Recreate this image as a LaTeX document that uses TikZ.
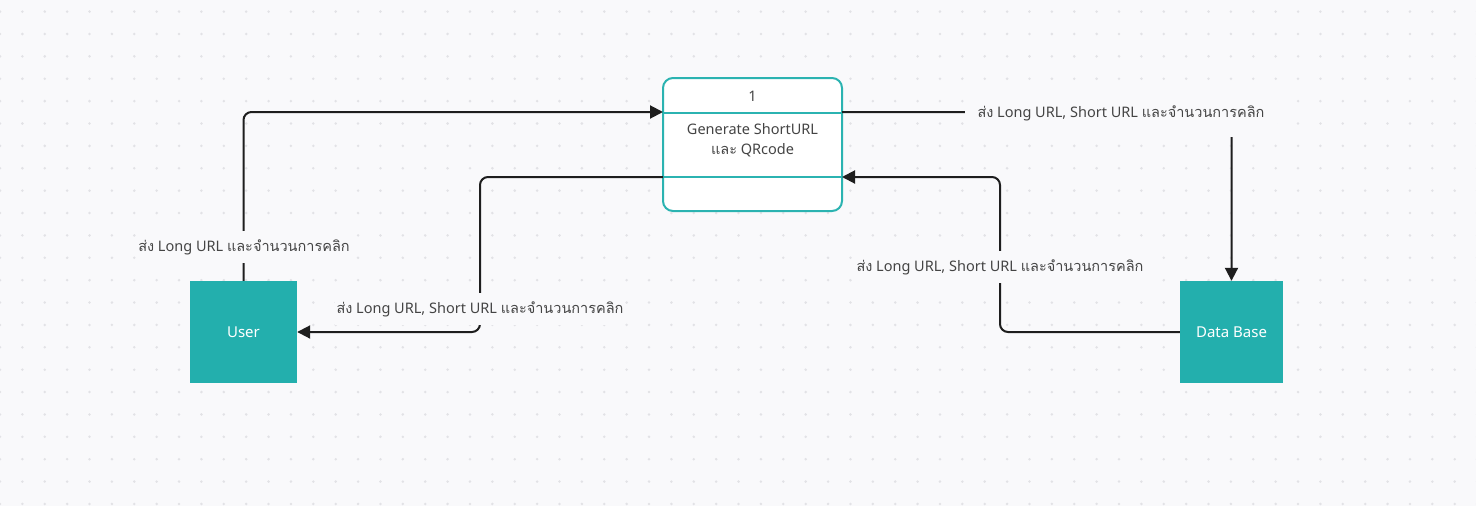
\documentclass[tikz,border=0pt]{standalone}
\usepackage{fontspec}
\setmainfont{Noto Sans}
\newfontfamily\thai[Script=Thai]{Loma}
\usetikzlibrary{arrows.meta}
\definecolor{bgc}{HTML}{F9F9FB}
\definecolor{dotc}{HTML}{E2E2E6}
\definecolor{tealline}{HTML}{2BB3B1}
\definecolor{tealfill}{HTML}{23AFAD}
\definecolor{linec}{HTML}{1E1E1E}
\definecolor{txtc}{HTML}{444444}
\tikzset{
  procbox/.style={draw=tealline, line width=2pt, rounded corners=10pt, fill=white, minimum width=179pt, minimum height=133pt, inner sep=0pt},
  entity/.style={fill=tealfill, draw=none, text=white, minimum height=102pt, inner sep=0pt, font=\fontsize{15}{18}\selectfont},
  conn/.style={draw=linec, line width=2pt, rounded corners=8pt, -{Triangle[length=13pt,width=13pt]}},
  lbl/.style={fill=bgc, text=txtc, inner xsep=2pt, inner ysep=8pt, font=\fontsize{14.5}{17}\selectfont},
  ptxt/.style={text=txtc, align=center, font=\fontsize{14.5}{20}\selectfont, inner sep=0pt}
}
\begin{document}
\begin{tikzpicture}[x=1pt,y=-1pt]
\fill[bgc] (0,0) rectangle (1476,506);
\useasboundingbox (0,0) rectangle (1476,506);
\foreach \i in {0,...,66}{\foreach \j in {0,...,22}{\fill[dotc] (\i*22.38,11.6+\j*22.38) circle (1.4pt);}}
% process
\node[procbox] (p) at (752.5,144.5) {};
\draw[tealline, line width=2pt] (p.west |- 0,113) -- (p.east |- 0,113);
\draw[tealline, line width=2pt] (p.west |- 0,177) -- (p.east |- 0,177);
\node[ptxt] (pnum) at (752.5,96) {1};
\node[ptxt] (ptext) at (752.5,140) {Generate ShortURL\\{\thai และ} QRcode};
\coordinate (pL1) at (663,112);
\coordinate (pL2) at (663,177);
\coordinate (pR1) at (842,112);
\coordinate (pR2) at (842,177);
% entities
\node[entity, minimum width=107pt] (user) at (243.5,332) {User};
\node[entity, minimum width=103pt] (db) at (1231.5,332) {Data Base};
\coordinate (c2) at (480,250);
\coordinate (c3) at (1000,250);
% connectors
\draw[conn] (user.north) |- (pL1);
\draw[conn] (pL2) -| (c2) |- (user.east);
\draw[conn] (db.west) -| (c3) |- (pR2);
\draw[conn] (pR1) -| (db.north);
% labels
\node[lbl] (l1) at (244,247) {{\thai ส่ง} Long URL {\thai และจำนวนการคลิก}};
\node[lbl] (l2) at (480,309) {{\thai ส่ง} Long URL, Short URL {\thai และจำนวนการคลิก}};
\node[lbl] (l3) at (1000,267) {{\thai ส่ง} Long URL, Short URL {\thai และจำนวนการคลิก}};
\node[lbl, inner xsep=13pt, inner ysep=16pt] (l4) at (1121,113) {{\thai ส่ง} Long URL, Short URL {\thai และจำนวนการคลิก}};
\end{tikzpicture}
\end{document}
